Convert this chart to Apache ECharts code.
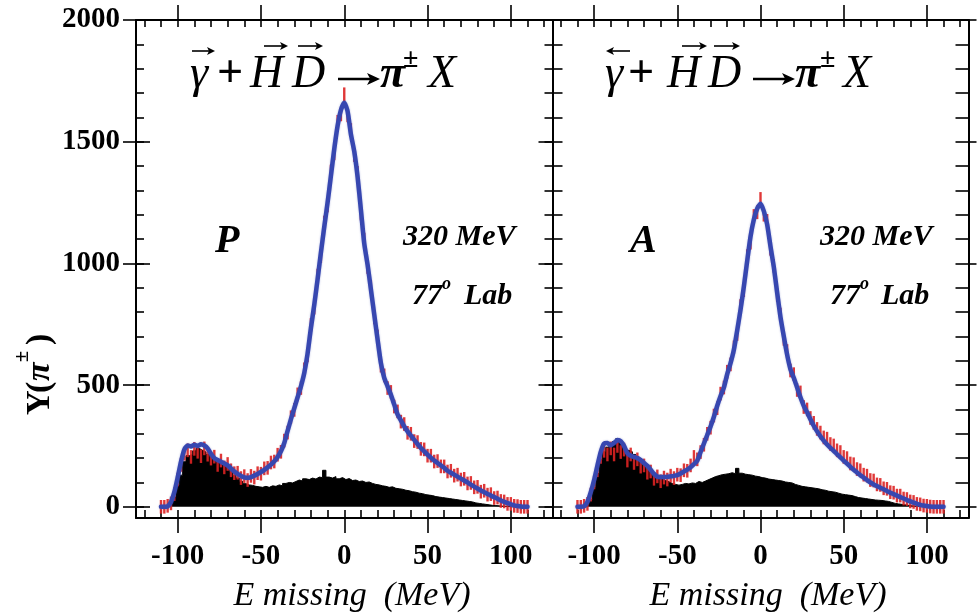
<!DOCTYPE html>
<html><head><meta charset="utf-8">
<script src="https://cdn.jsdelivr.net/npm/echarts@6/dist/echarts.min.js"></script>
<style>html,body{margin:0;padding:0;background:#fff}#c{width:978px;height:616px}</style>
</head><body><div id="c"></div>
<script>
// ---- data ----
const energy = [-110,-108,-106,-104,-102,-100,-98,-96,-94,-92,
  -90,-88,-86,-84,-82,-80,-78,-76,-74,-72,
  -70,-68,-66,-64,-62,-60,-58,-56,-54,-52,
  -50,-48,-46,-44,-42,-40,-38,-36,-34,-32,
  -30,-28,-26,-24,-22,-20,-18,-16,-14,-12,
  -10,-8,-6,-4,-2,0,2,4,6,8,
  10,12,14,16,18,20,22,24,26,28,
  30,32,34,36,38,40,42,44,46,48,
  50,52,54,56,58,60,62,64,66,68,
  70,72,74,76,78,80,82,84,86,88,
  90,92,94,96,98,100,102,104,106,108,
  110];

// Panel P (parallel)
const fitP = [0,0,2,20,60,120,185,235,252,248,
  255,250,257,252,240,218,200,192,185,178,
  170,158,145,135,127,121,119,122,128,135,
  143,152,162,173,187,205,228,262,312,360,
  405,450,495,550,630,735,830,935,1045,1150,
  1250,1360,1470,1565,1630,1660,1625,1530,1460,1356,
  1220,1082,995,893,790,688,590,530,495,460,
  420,380,355,330,310,292,275,258,242,228,
  214,202,190,180,170,160,148,140,132,124,
  116,108,100,91,83,75,67,60,53,46,
  40,33,26,20,15,10,6,3,1,0,
  0];
const dataP = [0,0,4,14,52,112,172,218,232,205,
  238,226,208,240,214,198,206,172,190,162,
  176,150,138,140,118,126,110,127,120,138,
  136,158,160,182,186,214,226,272,305,368,
  398,462,488,565,622,748,818,950,1030,1168,
  1238,1378,1452,1582,1612,1695,1608,1548,1445,1372,
  1205,1098,985,905,778,700,580,540,488,472,
  412,392,350,340,304,300,270,266,238,236,
  210,210,186,188,166,166,145,148,128,132,
  112,115,96,98,80,82,62,66,50,52,
  36,38,24,22,12,12,4,3,0,0,
  0];
const bgP = [0,0,0,5,40,90,130,185,210,215,
  230,240,232,225,215,205,200,192,185,175,
  165,145,128,118,105,95,90,88,84,82,
  80,84,80,86,84,90,86,96,100,98,
  104,110,106,115,112,118,114,122,120,150,
  122,118,124,115,120,112,116,108,110,104,
  106,100,102,96,92,90,86,84,80,82,
  76,74,72,68,66,62,60,56,54,50,
  48,46,42,40,38,36,34,32,30,28,
  26,24,22,20,16,14,12,10,8,6,
  5,4,3,2,1,0,0,0,0,0,
  0];

// Panel A (anti-parallel)
const fitA = [0,0,3,20,60,110,170,226,260,262,
  253,262,274,270,250,220,210,205,200,192,
  180,168,152,135,124,122,122,123,125,127,
  130,137,145,153,163,175,190,225,260,295,
  330,370,415,455,490,545,590,645,725,810,
  905,1010,1110,1180,1225,1245,1215,1160,1070,985,
  880,780,700,625,565,530,490,450,415,388,
  360,333,310,290,272,256,242,230,216,203,
  190,177,164,152,141,130,120,110,100,92,
  85,78,72,65,58,52,46,40,34,28,
  22,17,12,8,5,3,1,0,0,0,
  0];
const dataA = [0,0,4,12,50,100,150,205,230,215,
  240,215,250,225,235,190,215,180,195,165,
  170,140,145,115,125,105,120,112,128,118,
  132,130,150,148,170,205,195,225,255,300,
  325,375,405,465,490,555,585,655,710,825,
  890,1030,1085,1195,1210,1265,1200,1175,1060,990,
  870,790,690,640,560,545,480,470,410,400,
  365,345,320,305,285,280,258,252,232,225,
  205,200,178,175,155,150,132,128,110,108,
  92,90,76,74,60,58,46,46,34,32,
  22,20,12,10,5,4,1,0,0,0,
  0];
const bgA = [0,0,0,0,30,80,137,195,226,245,
  255,268,280,262,245,232,226,215,205,190,
  172,158,145,132,123,115,108,103,96,92,
  89,92,96,94,98,96,104,100,106,112,
  118,124,128,132,134,136,140,136,158,138,
  134,132,130,126,124,120,118,114,112,110,
  108,106,102,100,98,92,88,84,82,80,
  78,76,74,70,68,64,62,60,56,52,
  50,48,46,42,38,36,34,32,30,28,
  27,26,24,22,18,14,12,10,8,6,
  4,3,2,1,0,0,0,0,0,0,
  0];

const errorHalf = 28; // half length of the red error bars (counts)

const xMajorTicks = [-100,-50,0,50,100];
const xMinorTicks = [-120,-110,-100,-90,-80,-70,-60,-50,-40,-30,-20,-10,0,10,20,30,40,50,60,70,80,90,100,110,120];
const yMajorTicks = [0,500,1000,1500,2000];
const yMinorTicks = [0,100,200,300,400,500,600,700,800,900,1000,1100,1200,1300,1400,1500,1600,1700,1800,1900,2000];

// ---- chart ----
const SERIF = '"Liberation Serif", "DejaVu Serif", serif';
const AXC = '#000';
const RED = '#dd2222';
const BLUE = '#3747b0';

function xAx(gridIndex, position, ticks, len, inside, labels, line) {
  return {
    type: 'value', gridIndex, position, min: -125, max: 125,
    axisLine: { show: line, onZero: false, lineStyle: { color: AXC, width: 2 } },
    axisTick: { show: true, inside, length: len, customValues: ticks, lineStyle: { color: AXC, width: 1.6 } },
    axisLabel: labels ? { show: true, customValues: xMajorTicks, margin: 24, color: '#000',
      fontFamily: SERIF, fontWeight: 'bold', fontSize: 29, formatter: v => String(v) } : { show: false },
    splitLine: { show: false }, minorTick: { show: false }
  };
}
function yAx(gridIndex, position, ticks, len, inside, labels, line) {
  return {
    type: 'value', gridIndex, position, min: -46, max: 2000,
    axisLine: { show: line, onZero: false, lineStyle: { color: AXC, width: 2 } },
    axisTick: { show: true, inside, length: len, customValues: ticks, lineStyle: { color: AXC, width: 1.6 } },
    axisLabel: labels ? { show: true, customValues: yMajorTicks, margin: 16, color: '#000',
      fontFamily: SERIF, fontWeight: 'bold', fontSize: 29, formatter: v => String(v) } : { show: false },
    splitLine: { show: false }, minorTick: { show: false }
  };
}

function pairs(vals) { return energy.map((e, i) => [e, vals[i]]); }

function errBar(params, api) {
  const x = api.value(0), v = api.value(1);
  const p1 = api.coord([x, v - errorHalf]);
  const p2 = api.coord([x, v + errorHalf]);
  return { type: 'line', shape: { x1: p1[0], y1: p1[1], x2: p2[0], y2: p2[1] },
    style: { stroke: RED, lineWidth: 2.4, opacity: 0.9 } };
}

function panelSeries(xi, yi, bg, data, fit) {
  return [
    { type: 'line', xAxisIndex: xi, yAxisIndex: yi, data: pairs(bg), step: 'middle', symbol: 'none',
      lineStyle: { color: '#000', width: 1 }, areaStyle: { color: '#000', opacity: 1 }, z: 1, silent: true },
    { type: 'custom', xAxisIndex: xi, yAxisIndex: yi, data: pairs(data), renderItem: errBar,
      encode: { x: 0, y: 1 }, z: 2, silent: true },
    { type: 'line', xAxisIndex: xi, yAxisIndex: yi, data: pairs(fit), smooth: 0.2, symbol: 'none',
      lineStyle: { color: BLUE, width: 4.5, cap: 'round', join: 'round', shadowColor: 'rgba(55,71,176,0.4)', shadowBlur: 2 },
      z: 3, silent: true }
  ];
}

function T(x, y, text, size, weight, style, align, family) {
  return { type: 'text', x, y, z: 100, silent: true,
    style: { text, fill: '#000',
      font: (style || 'normal') + ' ' + (weight || 'normal') + ' ' + size + 'px ' + (family || SERIF),
      textAlign: align || 'left', textVerticalAlign: 'middle', align: align || 'left', verticalAlign: 'middle' } };
}
// vector arrow decoration (x1 -> x2), head at x2
function arrow(x1, x2, y, lw, hl, hw) {
  const d = x2 > x1 ? 1 : -1;
  return { type: 'group', silent: true, z: 100, children: [
    { type: 'line', shape: { x1, y1: y, x2: x2 - d * hl * 0.6, y2: y }, style: { stroke: '#000', lineWidth: lw } },
    { type: 'polygon', shape: { points: [[x2, y], [x2 - d * hl, y - hw], [x2 - d * hl * 0.75, y], [x2 - d * hl, y + hw]] },
      style: { fill: '#000' } }
  ] };
}

const graphics = [
  // left title
  T(190, 75, 'γ', 46, 'normal', 'italic'),
  arrow(192, 215, 51, 1.6, 8, 4),
  T(217, 75, '+', 46, 'bold'),
  T(250, 75, 'H', 46, 'normal', 'italic'),
  arrow(264, 288, 46, 1.6, 8, 4),
  T(292, 75, 'D', 46, 'normal', 'italic'),
  arrow(298, 323, 46, 1.6, 8, 4),
  arrow(338, 380, 79, 2.6, 13, 6),
  T(380, 75, 'π', 46, 'bold', 'italic'),
  T(403, 60, '±', 28, 'bold'),
  T(428, 75, 'X', 46, 'normal', 'italic'),
  // right title
  T(605, 75, 'γ', 46, 'normal', 'italic'),
  arrow(630, 606, 51, 1.6, 8, 4),
  T(628, 75, '+', 46, 'bold'),
  T(667, 75, 'H', 46, 'normal', 'italic'),
  arrow(682, 707, 46, 1.6, 8, 4),
  T(708, 75, 'D', 46, 'normal', 'italic'),
  arrow(714, 740, 46, 1.6, 8, 4),
  arrow(753, 795, 79, 2.6, 13, 6),
  T(795, 75, 'π', 46, 'bold', 'italic'),
  T(820, 60, '±', 28, 'bold'),
  T(843, 75, 'X', 46, 'normal', 'italic'),
  // panel labels
  T(215, 242, 'P', 40, 'bold', 'italic'),
  T(630, 242, 'A', 40, 'bold', 'italic'),
  T(403, 237, '320 MeV', 30, 'bold', 'italic'),
  T(412, 296, '77', 30, 'bold', 'italic'),
  T(442, 284, 'o', 18, 'bold', 'italic'),
  T(464, 296, 'Lab', 30, 'bold', 'italic'),
  T(820, 237, '320 MeV', 30, 'bold', 'italic'),
  T(830, 296, '77', 30, 'bold', 'italic'),
  T(860, 284, 'o', 18, 'bold', 'italic'),
  T(881, 296, 'Lab', 30, 'bold', 'italic'),
  // x axis titles
  T(352, 596, 'E missing  (MeV)', 34, 'normal', 'italic', 'center'),
  T(768, 596, 'E missing  (MeV)', 34, 'normal', 'italic', 'center'),
  // y axis title (rotated)
  { type: 'group', x: 40, y: 372, rotation: Math.PI / 2, silent: true, children: [
      T(-43, 0, 'Υ', 34, 'bold', 'normal'),
      T(-21, 0, '(', 34, 'bold', 'normal'),
      T(-9, 0, 'π', 34, 'bold', 'italic'),
      T(10, -17, '±', 20, 'bold', 'normal'),
      T(27, 0, ')', 34, 'bold', 'normal')
  ] }
];

const option = {
  backgroundColor: '#fff',
  animation: false,
  grid: [
    { left: 136, top: 20, width: 416.5, height: 498 },
    { left: 552.5, top: 20, width: 416, height: 498 }
  ],
  xAxis: [
    xAx(0, 'bottom', xMajorTicks, 15, false, true, true),
    xAx(0, 'bottom', xMinorTicks, 8, true, false, false),
    xAx(0, 'top', xMajorTicks, 15, false, false, true),
    xAx(0, 'top', xMinorTicks, 7, true, false, false),
    xAx(1, 'bottom', xMajorTicks, 15, false, true, true),
    xAx(1, 'bottom', xMinorTicks, 8, true, false, false),
    xAx(1, 'top', xMajorTicks, 15, false, false, true),
    xAx(1, 'top', xMinorTicks, 7, true, false, false)
  ],
  yAxis: [
    yAx(0, 'left', yMajorTicks, 13, false, true, true),
    yAx(0, 'left', yMinorTicks, 8, true, false, false),
    yAx(0, 'left', yMajorTicks, 14, true, false, false),
    yAx(0, 'right', yMinorTicks, 8, true, false, true),
    yAx(0, 'right', yMajorTicks, 14, true, false, false),
    yAx(1, 'left', yMinorTicks, 10, true, false, true),
    yAx(1, 'right', yMinorTicks, 13, true, false, true),
    yAx(1, 'right', yMajorTicks, 8, false, false, false)
  ],
  series: [].concat(
    panelSeries(0, 0, bgP, dataP, fitP),
    panelSeries(4, 5, bgA, dataA, fitA)
  ),
  graphic: { elements: graphics }
};

const chart = echarts.init(document.getElementById('c'), null, { renderer: 'canvas' });
chart.setOption(option);
</script>
</body></html>
